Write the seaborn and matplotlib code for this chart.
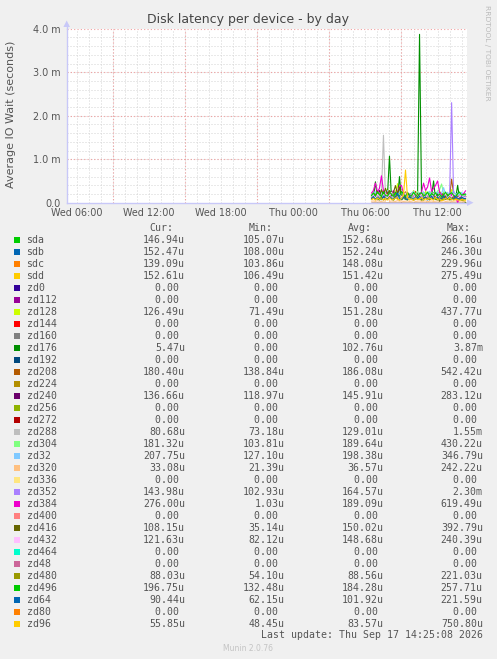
import matplotlib
matplotlib.use("Agg")
import matplotlib.pyplot as plt
from matplotlib.patches import Rectangle, Polygon
import seaborn as sns
import pandas as pd
import numpy as np

# device names in munin order
devices = ['sda', 'sdb', 'sdc', 'sdd', 'zd0', 'zd112', 'zd128', 'zd144', 'zd160', 'zd176',
           'zd192', 'zd208', 'zd224', 'zd240', 'zd256', 'zd272', 'zd288', 'zd304', 'zd32',
           'zd320', 'zd336', 'zd352', 'zd384', 'zd400', 'zd416', 'zd432', 'zd464', 'zd48',
           'zd480', 'zd496', 'zd64', 'zd80', 'zd96']

# munin default palette (cycles after 29 colours)
munin_colors = ['#00CC00', '#0066B3', '#FF8000', '#FFCC00', '#330099', '#990099', '#CCFF00',
                '#FF0000', '#808080', '#008F00', '#00487D', '#B35A00', '#B38F00', '#6B006B',
                '#8FB300', '#B30000', '#BEBEBE', '#80FF80', '#80C9FF', '#FFC080', '#FFE680',
                '#AA80FF', '#EE00CC', '#FF8080', '#666600', '#FFBFFF', '#00FFCC', '#CC6699',
                '#999900']

# legend values (microseconds)
cur_u = [146.94, 152.47, 139.09, 152.61, 0, 0, 126.49, 0, 0, 5.47, 0, 180.40, 0, 136.66, 0, 0,
         80.68, 181.32, 207.75, 33.08, 0, 143.98, 276.00, 0, 108.15, 121.63, 0, 0, 88.03,
         196.75, 90.44, 0, 55.85]
min_u = [105.07, 108.00, 103.86, 106.49, 0, 0, 71.49, 0, 0, 0, 0, 138.84, 0, 118.97, 0, 0,
         73.18, 103.81, 127.10, 21.39, 0, 102.93, 1.03, 0, 35.14, 82.12, 0, 0, 54.10,
         132.48, 62.15, 0, 48.45]
avg_u = [152.68, 152.24, 148.08, 151.42, 0, 0, 151.28, 0, 0, 102.76, 0, 186.08, 0, 145.91, 0, 0,
         129.01, 189.64, 198.38, 36.57, 0, 164.57, 189.09, 0, 150.02, 148.68, 0, 0, 88.56,
         184.28, 101.92, 0, 83.57]
max_u = [266.16, 246.30, 229.96, 275.49, 0, 0, 437.77, 0, 0, 3870, 0, 542.42, 0, 283.12, 0, 0,
         1550, 430.22, 346.79, 242.22, 0, 2300, 619.49, 0, 392.79, 240.39, 0, 0, 221.03,
         257.71, 221.59, 0, 750.80]

# samples every 10 min from Thu 06:30 to 14:20 (hours since Wed 00:00)
hours = [30.5 + i / 6 for i in range(48)]

# io wait per device, microseconds
sda = [130, 210, 150, 240, 120, 180, 200, 140, 170, 230, 266, 150, 120, 190, 210, 140, 125, 220, 160, 190, 115, 200, 170, 140,
       180, 105, 210, 150, 130, 240, 160, 190, 140, 200, 125, 170, 230, 135, 180, 210, 150, 120, 200, 170, 135, 190, 160, 147]
sdb = [170, 120, 200, 150, 130, 220, 140, 185, 115, 170, 150, 246, 125, 190, 160, 130, 210, 155, 108, 175, 200, 130, 165, 145,
       215, 125, 160, 195, 120, 170, 145, 220, 130, 160, 200, 115, 180, 150, 125, 210, 150, 175, 120, 195, 160, 130, 170, 152]
sdc = [130, 175, 115, 200, 150, 125, 185, 120, 165, 230, 130, 160, 195, 115, 150, 135, 190, 160, 120, 200, 104, 170, 130, 185,
       150, 120, 210, 145, 125, 160, 190, 115, 155, 135, 200, 150, 120, 180, 160, 125, 145, 205, 130, 160, 115, 185, 150, 139]
sdd = [160, 130, 190, 150, 210, 120, 140, 200, 125, 165, 190, 115, 275, 150, 130, 210, 160, 120, 185, 140, 130, 220, 150, 106,
       190, 160, 120, 215, 140, 125, 180, 150, 205, 130, 160, 115, 190, 150, 220, 130, 150, 185, 120, 160, 210, 130, 150, 153]
zd128 = [110, 200, 95, 260, 150, 85, 230, 120, 320, 160, 100, 210, 130, 438, 170, 90, 250, 120, 200, 100, 160, 280, 120, 71,
         220, 150, 95, 260, 130, 170, 210, 100, 160, 120, 270, 150, 90, 210, 130, 160, 300, 120, 150, 230, 100, 170, 130, 126]
zd176 = [80, 120, 480, 90, 60, 110, 70, 90, 150, 1070, 80, 60, 120, 90, 600, 70, 100, 80, 60, 140, 90, 70, 110, 80,
         3870, 90, 60, 120, 80, 70, 150, 500, 80, 60, 110, 90, 70, 80, 120, 60, 90, 70, 100, 400, 80, 60, 40, 5]
zd208 = [170, 240, 160, 260, 180, 150, 280, 190, 150, 250, 170, 160, 230, 150, 270, 190, 160, 250, 145, 180, 220, 150, 260, 170,
         200, 145, 240, 180, 160, 260, 150, 220, 180, 150, 250, 170, 210, 150, 190, 160, 542, 200, 150, 230, 139, 170, 210, 180]
zd240 = [140, 180, 125, 170, 283, 150, 125, 190, 130, 160, 140, 200, 125, 170, 130, 190, 150, 120, 180, 130, 200, 140, 160, 125,
         170, 140, 130, 190, 150, 119, 160, 140, 130, 200, 140, 170, 125, 160, 140, 130, 190, 150, 140, 125, 170, 140, 130, 137]
zd288 = [120, 130, 115, 140, 125, 200, 1550, 150, 120, 110, 130, 115, 100, 125, 110, 120, 105, 115, 100, 110, 120, 105, 95, 110,
         100, 115, 105, 90, 110, 100, 95, 105, 100, 90, 110, 95, 100, 85, 105, 95, 73, 100, 90, 85, 95, 90, 85, 81]
zd304 = [160, 230, 140, 260, 190, 150, 240, 170, 130, 220, 200, 150, 250, 170, 140, 230, 190, 104, 240, 160, 210, 150, 190, 260,
         170, 140, 230, 190, 150, 250, 170, 220, 180, 270, 300, 430, 200, 160, 150, 230, 180, 250, 160, 150, 220, 180, 160, 181]
zd32 = [170, 230, 250, 180, 150, 240, 170, 220, 280, 190, 140, 240, 210, 160, 260, 190, 220, 150, 240, 170, 210, 260, 180, 127,
        230, 170, 250, 180, 220, 260, 160, 230, 190, 250, 160, 220, 347, 180, 240, 160, 220, 270, 180, 230, 160, 240, 180, 208]
zd320 = [35, 40, 30, 45, 35, 30, 40, 35, 242, 30, 40, 35, 30, 45, 35, 40, 30, 35, 40, 30, 35, 45, 30, 35,
         40, 30, 35, 40, 21, 35, 40, 30, 35, 40, 30, 35, 45, 30, 35, 40, 30, 35, 40, 30, 35, 40, 30, 33]
zd352 = [150, 160, 140, 170, 155, 145, 165, 150, 140, 160, 150, 145, 170, 150, 140, 160, 155, 145, 150, 160, 140, 155, 150, 145,
         160, 150, 140, 165, 150, 145, 103, 155, 150, 140, 160, 150, 145, 155, 150, 200, 2300, 160, 150, 145, 155, 150, 140, 144]
zd384 = [220, 280, 450, 250, 330, 619, 280, 200, 240, 170, 220, 280, 190, 240, 380, 400, 200, 170, 220, 190, 150, 180, 140, 160,
         190, 240, 450, 280, 360, 570, 260, 330, 400, 500, 240, 190, 170, 140, 160, 130, 200, 110, 150, 1, 130, 170, 210, 276]
zd416 = [120, 220, 150, 260, 140, 300, 180, 330, 200, 280, 160, 240, 393, 200, 350, 140, 180, 110, 220, 150, 130, 190, 110, 170,
         120, 210, 150, 100, 190, 160, 130, 220, 110, 160, 35, 140, 200, 120, 180, 150, 130, 110, 170, 140, 120, 100, 130, 108]
zd432 = [130, 190, 110, 200, 150, 120, 180, 210, 110, 160, 240, 130, 170, 110, 190, 140, 160, 220, 120, 170, 130, 200, 82, 170,
         120, 200, 160, 110, 190, 150, 120, 210, 160, 110, 200, 130, 160, 220, 110, 170, 130, 200, 160, 110, 140, 180, 120, 122]
zd480 = [80, 110, 70, 120, 85, 130, 65, 100, 75, 140, 90, 70, 221, 95, 65, 80, 120, 90, 70, 140, 95, 60, 85, 130,
         90, 54, 80, 120, 100, 65, 110, 80, 130, 95, 60, 85, 110, 125, 75, 100, 65, 120, 95, 70, 100, 60, 80, 88]
zd496 = [160, 220, 150, 240, 190, 140, 250, 170, 150, 230, 200, 145, 240, 170, 150, 258, 200, 140, 230, 170, 150, 240, 180, 140,
         210, 230, 150, 180, 245, 140, 210, 170, 230, 150, 200, 132, 170, 245, 150, 200, 230, 170, 140, 210, 245, 170, 190, 197]
zd64 = [90, 140, 75, 120, 95, 70, 150, 100, 80, 130, 95, 70, 140, 222, 100, 80, 130, 95, 70, 150, 100, 80, 130, 95,
        150, 75, 100, 130, 62, 100, 150, 80, 100, 130, 70, 100, 150, 80, 100, 130, 95, 80, 150, 100, 80, 130, 100, 90]
zd96 = [70, 100, 60, 110, 75, 90, 65, 100, 60, 120, 75, 65, 110, 80, 60, 100, 180, 751, 120, 65, 90, 55, 110, 70,
        80, 120, 60, 95, 70, 110, 85, 60, 120, 70, 90, 48, 65, 100, 70, 120, 80, 60, 75, 65, 55, 70, 60, 56]

# devices that stayed at 0 the whole time
idle_devices = ['zd0', 'zd112', 'zd144', 'zd160', 'zd192', 'zd224', 'zd256', 'zd272', 'zd336',
                'zd400', 'zd464', 'zd48', 'zd80']

series = {'sda': sda, 'sdb': sdb, 'sdc': sdc, 'sdd': sdd, 'zd128': zd128, 'zd176': zd176,
          'zd208': zd208, 'zd240': zd240, 'zd288': zd288, 'zd304': zd304, 'zd32': zd32,
          'zd320': zd320, 'zd352': zd352, 'zd384': zd384, 'zd416': zd416, 'zd432': zd432,
          'zd480': zd480, 'zd496': zd496, 'zd64': zd64, 'zd96': zd96}
for name in idle_devices:
    series[name] = [0] * len(hours)

rows = []
for name in devices:
    for h, v in zip(hours, series[name]):
        rows.append({'hour': h, 'ms': v / 1000.0, 'device': name})
df = pd.DataFrame(rows)
palette = {name: munin_colors[i % len(munin_colors)] for i, name in enumerate(devices)}

# ---- layout (pixels) ----
W, H = 497, 659
L, R, T, B = 66.7, 466.7, 28.7, 202.7
TXT = '#555555'

sns.set_style("white")
plt.rcParams['font.family'] = ['DejaVu Sans']

fig = plt.figure(figsize=(W / 100, H / 100), dpi=100, facecolor='#F0F0F0')
ax = fig.add_axes([L / W, 1 - B / H, (R - L) / W, (B - T) / H])
ax.set_facecolor('white')

x0, x1 = 5.17, 38.42
ax.set_xlim(x0, x1)
ax.set_ylim(0, 4.0)

# grid: grey minor, red major
dot = (0, (1, 2))
for hh in range(6, 39):
    ax.axvline(hh, color='#D4D4D4', lw=0.72, ls=dot, zorder=0)
for yy in np.arange(0.2, 4.0, 0.2):
    ax.axhline(yy, color='#D4D4D4', lw=0.72, ls=dot, zorder=0)
for hh in [9, 15, 21, 27, 33]:
    ax.axvline(hh, color='#F0A0A0', lw=0.8, ls=dot, zorder=0.5)
for yy in [1, 2, 3, 4]:
    ax.axhline(yy, color='#F0A0A0', lw=0.8, ls=dot, zorder=0.5)

sns.lineplot(data=df, x='hour', y='ms', hue='device', hue_order=devices, palette=palette,
             estimator=None, legend=False, linewidth=0.8, ax=ax, zorder=2)

ax.set_xticks([6, 12, 18, 24, 30, 36])
ax.set_xticklabels(['Wed 06:00', 'Wed 12:00', 'Wed 18:00', 'Thu 00:00', 'Thu 06:00', 'Thu 12:00'])
ax.set_yticks([0, 1, 2, 3, 4])
ax.set_yticklabels(['0.0', '1.0 m', '2.0 m', '3.0 m', '4.0 m'])
ax.tick_params(axis='both', length=0, labelsize=6.9, labelcolor=TXT)
ax.tick_params(axis='x', pad=3.5)
ax.tick_params(axis='y', pad=4.3)
ax.set_xlabel('')
ax.set_ylabel('')
for s in ['top', 'right']:
    ax.spines[s].set_visible(False)
for s in ['left', 'bottom']:
    ax.spines[s].set_color('#C8C8F8')
    ax.spines[s].set_linewidth(1.0)

# overlay in pixel coordinates for texts, arrows and legend
ov = fig.add_axes([0, 0, 1, 1], facecolor='none')
ov.set_xlim(0, W)
ov.set_ylim(H, 0)
ov.axis('off')

axis_col = '#C8C8F8'
ov.plot([L, L], [T, 24], color=axis_col, lw=1.0)
ov.add_patch(Polygon([(L - 3.3, 27), (L + 3.3, 27), (L, 20.5)], closed=True, color=axis_col, lw=0))
ov.plot([R, 468], [B, B], color=axis_col, lw=1.0)
ov.add_patch(Polygon([(467, B - 3.3), (467, B + 3.3), (473.5, B)], closed=True, color=axis_col, lw=0))

ov.text(248.3, 19.3, 'Disk latency per device - by day', ha='center', va='center',
        fontsize=9, color='#444444')
ov.text(10.7, 114, 'Average IO Wait (seconds)', ha='center', va='center', rotation=90,
        fontsize=8, color=TXT)
ov.text(487.5, 5, 'RRDTOOL / TOBI OETIKER', ha='center', va='top', rotation=-90,
        fontsize=5.4, color='#BBBBBB')


def fmt(v):
    if v == 0:
        return '0.00 '
    if v >= 1000:
        return f'{v / 1000:.2f}m'
    return f'{v:.2f}u'


mono = 'DejaVu Sans Mono'
fs = 7.1
col_x = [185.2, 284.5, 383.5, 482.8]
for hx, ht in zip(col_x, ['Cur:', 'Min:', 'Avg:', 'Max:']):
    ov.text(hx - 11.9, 228.3, ht, ha='right', va='center', family=mono, fontsize=fs, color=TXT)

for i, name in enumerate(devices):
    y = 239.7 + 12 * i
    ov.add_patch(Rectangle((14, y - 3), 6, 6, color=palette[name], lw=0))
    ov.text(26.5, y, name, ha='left', va='center', family=mono, fontsize=fs, color=TXT)
    for cx, vals in zip(col_x, [cur_u, min_u, avg_u, max_u]):
        ov.text(cx, y, fmt(vals[i]), ha='right', va='center', family=mono, fontsize=fs, color=TXT)

ov.text(482.8, 635.3, 'Last update: Thu Sep 17 14:25:08 2026', ha='right', va='center',
        family=mono, fontsize=fs, color=TXT)
ov.text(248, 648.3, 'Munin 2.0.76', ha='center', va='center', fontsize=5.5, color='#C4C4C4')

fig.savefig('out.png', dpi=100, facecolor=fig.get_facecolor())
